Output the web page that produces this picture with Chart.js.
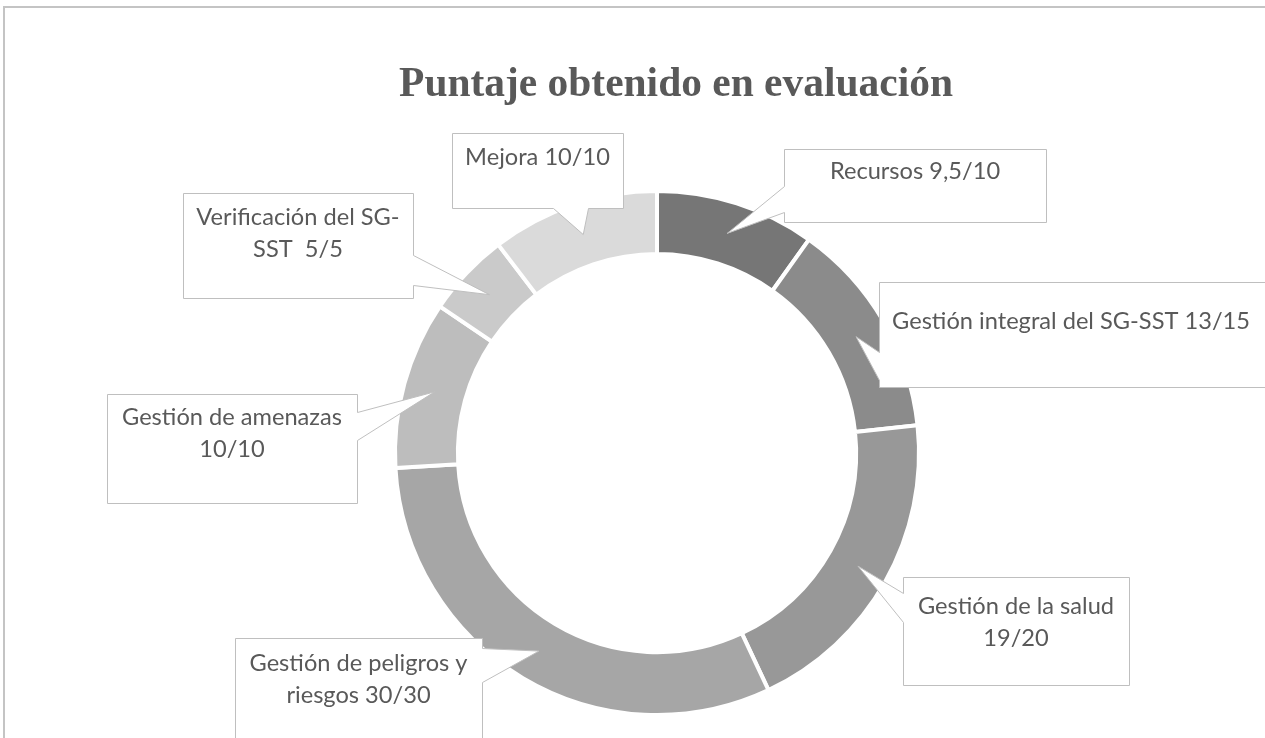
<!DOCTYPE html>
<html><head><meta charset="utf-8">
<script src="https://cdn.jsdelivr.net/npm/chart.js@4.4.1/dist/chart.umd.min.js"></script>
<style>
html,body{margin:0;padding:0;background:#fff;overflow:hidden}
#wrap{position:relative;width:1265px;height:738px}
#frame{position:absolute;left:3px;top:6px;right:0;bottom:0;border-top:2px solid #c4c4c4;border-left:2px solid #c4c4c4;pointer-events:none}
canvas{position:absolute;left:0;top:0}
</style></head><body>
<div id="wrap"><canvas id="c" width="1265" height="738"></canvas><div id="frame"></div></div>
<script>
const titleText = "Puntaje obtenido en evaluación";
const categories = ["Recursos", "Gestión integral del SG-SST", "Gestión de la salud", "Gestión de peligros y riesgos", "Gestión de amenazas", "Verificación del SG-SST", "Mejora"];
const scores = [9.5, 13, 19, 30, 10, 5, 10];
const maxScores = [10, 15, 20, 30, 10, 5, 10];
const calloutLines = [
  ["Recursos 9,5/10"],
  ["Gestión integral del SG-SST 13/15"],
  ["Gestión de la salud", "19/20"],
  ["Gestión de peligros y", "riesgos 30/30"],
  ["Gestión de amenazas", "10/10"],
  ["Verificación del SG-", "SST  5/5"],
  ["Mejora 10/10"]
];
const segmentColors = ["#767676", "#8b8b8b", "#989898", "#a6a6a6", "#bdbdbd", "#cacaca", "#dadada"];

// callout box layout (pixels): left, top, right, bottom, first text line y, pointer edge and base
const calloutLayout = [
  {l:784, t:149, r:1046, b:222, ty:171, edge:'left',   base:[186,212]},
  {l:879, t:282, r:1270, b:387, ty:321, edge:'left',   base:[352,380]},
  {l:903, t:577, r:1129, b:685, ty:606, edge:'left',   base:[593,622]},
  {l:235, t:638, r:482,  b:760, ty:663, edge:'right',  base:[648,682]},
  {l:107, t:394, r:357,  b:503, ty:417, edge:'right',  base:[412,440]},
  {l:183, t:193, r:413,  b:298, ty:217, edge:'right',  base:[255,285]},
  {l:452, t:133, r:623,  b:208, ty:157, edge:'bottom', base:[553,588]}
];

function fitSize(ctx, text, weight, family, target) {
  ctx.font = weight + ' 100px ' + family;
  return 100 * target / ctx.measureText(text).width;
}

const calloutPlugin = {
  id: 'callouts',
  afterDatasetsDraw(chart) {
    const ctx = chart.ctx;
    const meta = chart.getDatasetMeta(0);
    ctx.save();
    // title
    const ts = fitSize(ctx, titleText, 'bold', '"Liberation Serif", "Times New Roman", serif', 554);
    ctx.font = 'bold ' + ts.toFixed(2) + 'px "Liberation Serif", "Times New Roman", serif';
    ctx.fillStyle = '#595959';
    ctx.textAlign = 'center';
    ctx.textBaseline = 'alphabetic';
    ctx.fillText(titleText, 676, 96);

    const fam = 'Lato, "Open Sans", sans-serif';
    const ls = fitSize(ctx, calloutLines[1][0], 'normal', fam, 358);
    meta.data.forEach((arc, i) => {
      const L = calloutLayout[i];
      const tip = arc.tooltipPosition();
      const l = L.l + 0.5, t = L.t + 0.5, r = L.r + 0.5, b = L.b + 0.5;
      ctx.beginPath();
      if (L.edge === 'left') {
        ctx.moveTo(l, t); ctx.lineTo(r, t); ctx.lineTo(r, b); ctx.lineTo(l, b);
        ctx.lineTo(l, L.base[1] + 0.5); ctx.lineTo(tip.x, tip.y); ctx.lineTo(l, L.base[0] + 0.5);
      } else if (L.edge === 'right') {
        ctx.moveTo(l, t); ctx.lineTo(r, t);
        ctx.lineTo(r, L.base[0] + 0.5); ctx.lineTo(tip.x, tip.y); ctx.lineTo(r, L.base[1] + 0.5);
        ctx.lineTo(r, b); ctx.lineTo(l, b);
      } else {
        ctx.moveTo(l, t); ctx.lineTo(r, t); ctx.lineTo(r, b);
        ctx.lineTo(L.base[1] + 0.5, b); ctx.lineTo(tip.x, tip.y); ctx.lineTo(L.base[0] + 0.5, b);
        ctx.lineTo(l, b);
      }
      ctx.closePath();
      ctx.fillStyle = '#ffffff';
      ctx.fill();
      ctx.strokeStyle = '#bfbfbf';
      ctx.lineWidth = 1;
      ctx.stroke();

      ctx.font = ls.toFixed(2) + 'px ' + fam;
      ctx.fillStyle = '#595959';
      ctx.textAlign = 'center';
      ctx.textBaseline = 'middle';
      const cx = (L.l + Math.min(L.r, 1265)) / 2;
      calloutLines[i].forEach((line, k) => {
        ctx.fillText(line, i === 1 ? (L.l + 1263) / 2 : cx, L.ty + k * 32);
      });
    });
    ctx.restore();
  }
};

new Chart(document.getElementById('c'), {
  type: 'doughnut',
  data: {
    labels: categories,
    datasets: [{
      data: scores,
      backgroundColor: segmentColors,
      borderColor: '#ffffff',
      borderWidth: 4,
      hoverOffset: 0
    }]
  },
  options: {
    responsive: false,
    animation: false,
    devicePixelRatio: 1,
    cutout: '76%',
    layout: { padding: { left: 393, right: 344, top: 189, bottom: 21 } },
    events: [],
    plugins: {
      legend: { display: false },
      tooltip: { enabled: false },
      title: { display: false }
    }
  },
  plugins: [calloutPlugin]
});
</script>
</body></html>
